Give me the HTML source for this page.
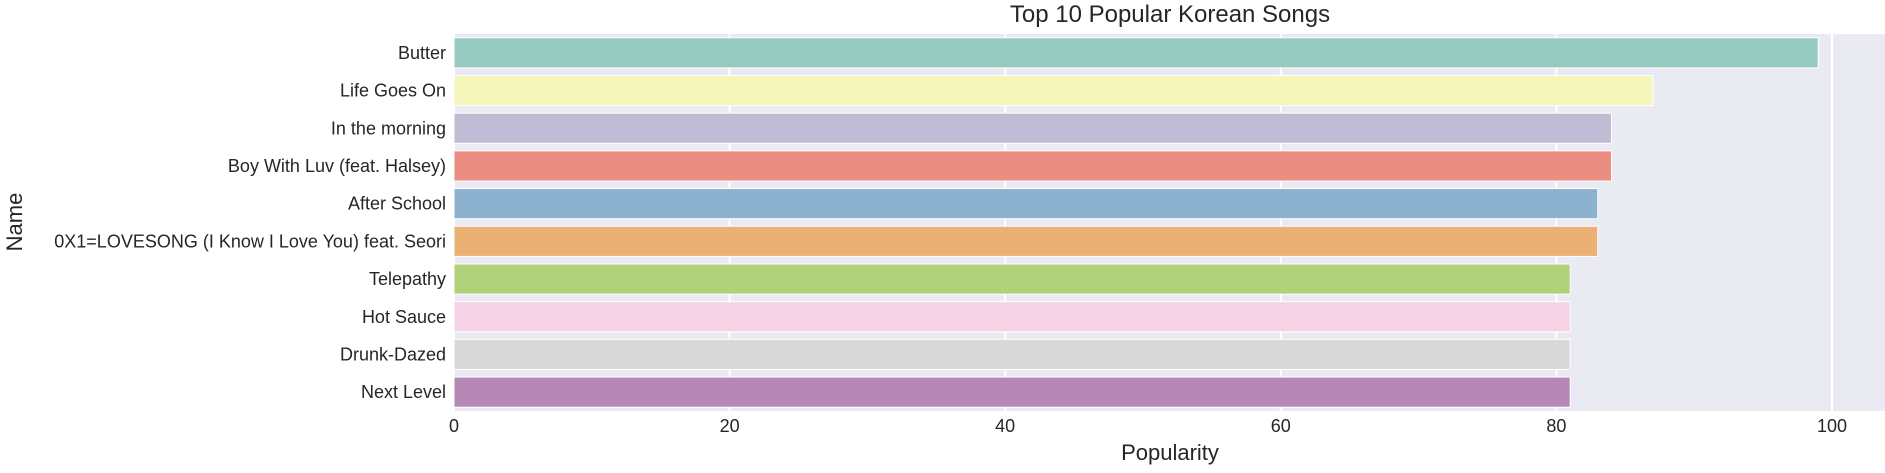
<!DOCTYPE html>
<html><head><meta charset="utf-8"><style>
body{margin:0;background:#fff;}
svg text{font-family:"Liberation Sans","DejaVu Sans",sans-serif;fill:#262626;}
</style></head><body>
<svg id="chart" width="1885" height="468" xmlns="http://www.w3.org/2000/svg">
<rect x="454" y="34" width="1431" height="377" fill="#eaeaf2"/>
<g id="grid"></g><g id="bars"></g><g id="ylabels"></g><g id="xticks"></g>
<text x="1170" y="22" text-anchor="middle" font-size="24">Top 10 Popular Korean Songs</text>
<text x="1170" y="460" text-anchor="middle" font-size="22">Popularity</text>
<text x="0" y="0" transform="translate(22,222) rotate(-90)" text-anchor="middle" font-size="22">Name</text>
</svg>
<script>
const categories=["Butter","Life Goes On","In the morning","Boy With Luv (feat. Halsey)","After School","0X1=LOVESONG (I Know I Love You) feat. Seori","Telepathy","Hot Sauce","Drunk-Dazed","Next Level"];
const values=[99,87,84,84,83,83,81,81,81,81];
const colors=["#97cac1","#f5f6bc","#c1bcd6","#eb8d80","#8cb2cf","#ebb174","#b0d079","#f5d2e4","#d9d9d9","#b688b6"];
const xTicks=[0,20,40,60,80,100];
const NS="http://www.w3.org/2000/svg";
const x0=454,pxPer=13.78,top0=34,band=37.7;
const xs=v=>x0+v*pxPer;
function mk(tag,attrs,parent){const e=document.createElementNS(NS,tag);for(const k in attrs)e.setAttribute(k,attrs[k]);document.getElementById(parent).appendChild(e);return e;}
xTicks.forEach(t=>{
 const g=mk("line",{x1:xs(t),x2:xs(t),y1:34,y2:411,stroke:"#fff","stroke-width":2},"grid");
 
 
 const l=mk("text",{x:xs(t),y:432,"text-anchor":"middle","font-size":18},"xticks");
 l.textContent=t;
 
 
});
categories.forEach((c,i)=>{
 const y=top0+i*band+band*0.1;
 const r=mk("rect",{x:x0,y:y,width:xs(values[i])-x0,height:band*0.8,fill:colors[i],stroke:"#fff","stroke-width":1},"bars");
 
 
 const t=mk("text",{x:446,y:top0+i*band+band/2+6,"text-anchor":"end","font-size":18},"ylabels");
 t.textContent=c;
 
 
});
</script>
</body></html>
